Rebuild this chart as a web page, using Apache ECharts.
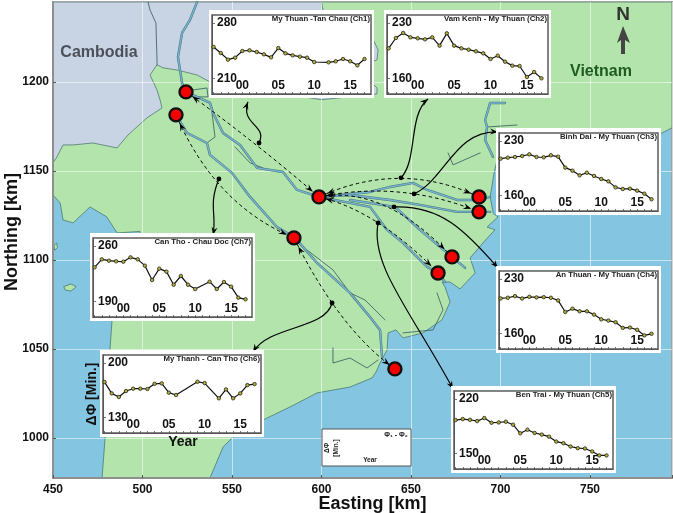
<!DOCTYPE html>
<html><head><meta charset="utf-8"><style>html,body{margin:0;padding:0;background:#fff}#c{width:673px;height:513px}</style>
<script src="https://cdn.jsdelivr.net/npm/echarts@6/dist/echarts.min.js"></script></head><body><div id="c"></div>
<script>
// ---- inset series (travel-time difference, minutes), 1996..2017 ----
const years=[1996,1997,1998,1999,2000,2001,2002,2003,2004,2005,2006,2007,2008,2009,2010,2011,2012,2013,2014,2015,2016,2017];
const ch1=[249.5,241.9,233.5,236,244.4,245.3,243.2,240.2,236.4,248.2,241.5,238.9,237.3,236,230.5,null,230.1,231.4,234.3,231.4,226.3,234.3];
const ch2=[197.8,210.9,217.2,211.7,210.5,209.2,211.7,201.2,216.8,201.2,197.8,196.1,194,191.5,184.3,188.5,180.9,175.9,175.4,161.5,167.8,159.8];
const ch3=[207.1,208.4,209.2,210.5,212.6,209.2,208.8,211.4,209.7,195.6,191.7,185.7,189.1,184.9,181,178,170.3,168.2,168.6,166.1,162.2,155];
const ch4=[204.8,205.7,207.8,204.8,206.9,206.1,206.5,205.7,202.3,187.5,191.7,188.3,188.3,184.1,178.1,176.4,174.3,167.1,167.5,164.6,157.4,159.5];
const ch5=[192.7,194,193.1,191.4,195.3,189.3,189.7,190.6,186.8,175.8,180.4,176.2,174.1,171.5,165.2,163.1,158.8,156.7,156.3,152.5,147.4,147.4];
const ch6=[175.3,160.8,156.2,163.8,166.8,166.8,166.4,173.1,173.6,161.7,158.7,null,null,175.7,174,null,154.5,165.9,154.5,160.8,171.4,172.7];
const ch7=[232.9,243,241.3,240.5,240,245.5,243,235,216.8,231.2,227.4,210.9,221.9,210.9,205.4,null,214.7,205.4,214.3,208.4,194.5,192.4];
const yearTicks=[2000,2005,2010,2015];
const chTitles=['My Thuan -Tan Chau (Ch1)','Vam Kenh - My Thuan (Ch2)','Binh Dai - My Thuan (Ch3)','An Thuan - My Thuan (Ch4)','Ben Trai - My Thuan (Ch5)','My Thanh - Can Tho (Ch6)','Can Tho - Chau Doc (Ch7)'];
const chTicks=[[210,280],[160,230],[160,230],[160,230],[150,220],[130,200],[190,260]];
// ---- map geometry, in km (easting, northing) ----
const eastingTicks=[450,500,550,600,650,700,750];
const northingTicks=[1000,1050,1100,1150,1200];
const land=[[450,1244.9],[795.8,1244.9],[795.8,1174.2],[790.2,1171.3],[755.6,1167],[710.9,1170],[698.1,1156.2],[696.4,1148.9],[694.2,1135.4],[696,1126],[698.6,1124.2],[692.5,1118.5],[696.9,1116.9],[690.2,1109.6],[683,1101.1],[685.8,1092.7],[677.4,1083.7],[671.8,1087.6],[667.3,1087.6],[669,1084.8],[671.8,1076.4],[667.3,1066.3],[656.7,1059],[645.5,1056.2],[641.6,1060.7],[637.2,1059],[636.6,1049.4],[632.7,1042.1],[630.5,1037.1],[628.2,1033.7],[615.9,1028.6],[597.5,1025.3],[582.4,1017.4],[567.3,1010.1],[550,1000],[545,994.9],[537.7,977.5],[477.4,977.5],[479.1,1000],[480.2,1021.3],[481.8,1049.4],[483,1066.3],[498.6,1112],[498.6,1116],[485.8,1115.2],[480,1124.2],[470.7,1129.8],[461.2,1120.8],[455.6,1122.5],[454,1132],[450,1136.5]];
const cambodia=[[450,1244.9],[600,1244.9],[600.8,1240.4],[627.1,1227.5],[631.6,1218],[631,1212.4],[627.1,1210.7],[627.1,1200.5],[631,1196.6],[631,1193.3],[600,1190],[537.7,1200],[530.5,1203.9],[519.3,1206.7],[511.5,1207.9],[508.1,1209.6],[504.2,1203.9],[508.1,1195.5],[509.8,1189.9],[510.9,1185.4],[502.5,1179.8],[491.9,1170.2],[485.8,1162.9],[472.3,1165.7],[461.2,1164.6],[455.6,1164.6],[452.2,1157.9],[450,1154.5]];
const islandA=[[450.5,1108],[452,1109.5],[452.5,1107],[451,1105.5]];
const islandB=[[456,1085],[460,1086.5],[463,1085],[460,1082.5],[457,1083]];
const riverTien=[[530.5,1244.9],[526.5,1234.8],[522.1,1227.5],[519.8,1214],[522.1,1199.4],[524.3,1194.4],[537.7,1188.2],[539.4,1182.6],[545,1171.3],[554.5,1164.6],[564,1151.7],[578.5,1149.4],[586.3,1139.3],[598.6,1135.4]];
const riverHau=[[518.7,1181.5],[524.9,1171.3],[536,1165.7],[537.7,1159],[550,1148.9],[560.1,1135.4],[575.1,1118.5],[585.2,1112.4],[597.5,1098.3],[615.9,1081.5],[627.1,1068],[632.7,1060.7],[633.8,1045.5]];
const riverCuaDai=[[598.6,1135.4],[627.1,1138.2],[638.3,1141],[651.1,1143.3],[659,1139.3],[675.7,1133.7],[688.6,1133.7],[694.2,1135.4]];
const riverHamLuong=[[598.6,1135.4],[615.9,1136.5],[638.3,1133.7],[655,1130.9],[675.7,1127],[694.2,1127]];
const riverAnThuan=[[615.9,1133.7],[641,1129.8],[655,1116.9],[666.2,1107.3],[672.9,1101.7],[680.2,1095.5]];
const riverBenTrai=[[598.6,1135.4],[627.1,1129.8],[636.6,1116.9],[645.5,1109.6],[659,1096.1],[665.1,1092.7],[669,1087.6]];
const riverSoaiRap=[[702.5,1188.2],[694.2,1188.2],[691.4,1178.6],[692.5,1174.7],[691.4,1167.4],[695.8,1157.9]];
const thinRivers=[
 [[503.1,1244.9],[504.2,1240.4],[507.5,1233.1],[508.1,1212.4],[508.1,1209.6]],
 [[528.2,1195.5],[536,1196.6],[536.6,1191.6],[530.5,1191.6]],
 [[536,1165.7],[540.5,1169.1],[538.8,1182.6]],
 [[551.7,1163.5],[560.1,1154.5],[567.3,1151.7]],
 [[692.5,1174.7],[709.2,1175.8]],
 [[670.7,1160.1],[673.5,1153.4],[688.6,1160.1]],
 [[606.4,1050.6],[606.4,1042.1],[615.9,1044.9],[625.4,1039.3],[631.6,1043.8]],
 [[591.9,1105.6],[606.4,1094.4],[615.9,1081.5]],
 [[615.9,1081.5],[624.3,1077.5],[635.5,1066.3]],
 [[645.5,1059],[662.3,1060.7],[667.9,1071.9],[664.5,1081.5]]
];
const stations=[[524.3,1194.4],[518.7,1181.5],[584.6,1112.4],[598.6,1135.4],[688,1135.4],[688,1127],[672.9,1101.7],[665.1,1092.7],[641,1038.8]];
// dashed links: from, control, to, mid dot
const dashedArcs=[
 [[524.3,1194.4],[562.3,1166.9],[598.6,1135.4],[565.1,1165.7]],
 [[598.6,1135.4],[643.9,1156.2],[688,1135.4],[644.4,1146.1]],
 [[598.6,1135.4],[644.4,1144.9],[688,1127],[651.7,1137.1]],
 [[598.6,1135.4],[635.5,1142.1],[672.9,1101.7],[640.5,1129.8]],
 [[598.6,1135.4],[631.6,1127.5],[665.1,1092.7],[631.6,1120.8]],
 [[584.6,1112.4],[610.3,1060.7],[641,1038.8],[605.9,1075.8]],
 [[518.7,1181.5],[540.5,1130.9],[584.6,1112.4],[542.7,1145.5]]
];
// solid callouts: dot, control 1, control 2, inset end
const callouts=[
 [[565.1,1165.7],[570.1,1175.8],[554.5,1175.8],[558.9,1188.8]],
 [[644.4,1146.1],[653.9,1156.2],[648.3,1181.5],[659.5,1190.4]],
 [[651.7,1137.1],[669,1145],[674.6,1173],[698.6,1171.9]],
 [[640.5,1129.8],[666.2,1130.9],[680.2,1116.9],[698.6,1095.5]],
 [[631.6,1120.8],[627.1,1097.2],[649.5,1071.9],[673.5,1027.5]],
 [[605.9,1075.8],[602,1060.7],[571.2,1063.5],[561.7,1048.3]],
 [[542.7,1145.5],[536.6,1130.9],[541.6,1125.3],[539.4,1114]]
];
// ---- layout of inset frames (pixels): plot box and white margin ----
const insetBoxes=[[212,15,159,79],[387,15,161,79],[499,133,159,78],[499,271,159,78],[454,391,159,78],[103,355,158,78],[93,238,159,79]];
const chData=[ch1,ch2,ch3,ch4,ch5,ch6,ch7];
const FONT='"Liberation Sans",Arial,sans-serif';

function poly(color,stroke,pts){return {type:'custom',coordinateSystem:'cartesian2d',xAxisIndex:0,yAxisIndex:0,z:1,silent:true,clip:true,
  data:[pts[0]],renderItem:(p,api)=>({type:'polygon',shape:{points:pts.map(q=>api.coord(q))},style:{fill:color,stroke:stroke,lineWidth:.7}})};}
function river(pts,w,c,z){return {type:'line',xAxisIndex:0,yAxisIndex:0,data:pts,showSymbol:false,symbol:'none',silent:true,z:z,lineStyle:{width:w,color:c,cap:'round',join:'round'}};}
function head(tip,ang){const L=8,W=3;const c=Math.cos(ang),s=Math.sin(ang);
  return {type:'polygon',shape:{points:[tip,[tip[0]-L*c-W*s,tip[1]-L*s+W*c],[tip[0]-L*.65*c,tip[1]-L*.65*s],[tip[0]-L*c+W*s,tip[1]-L*s-W*c]]},style:{fill:'#000'}};}
const grids=[{left:53,top:2,right:1,bottom:35,outerBoundsMode:'none',containLabel:false,show:true,borderColor:'#a3a3a3',borderWidth:2,backgroundColor:'#84c5e2',z:0}];
const xAxes=[{type:'value',gridIndex:0,min:450,max:795.8,interval:50,z:2,
  name:'Easting [km]',nameLocation:'middle',nameMoveOverlap:false,nameGap:17,nameTextStyle:{fontFamily:FONT,fontWeight:'bold',fontSize:18,color:'#111',padding:[0,0,0,20]},
  axisLine:{onZero:false,lineStyle:{color:'#8f8f8f',width:2}},axisTick:{inside:true,length:3,lineStyle:{color:'#555'}},
  axisLabel:{customValues:eastingTicks,hideOverlap:false,fontFamily:FONT,fontWeight:'bold',fontSize:12,color:'#111',margin:6,formatter:v=>String(v)},
  splitLine:{show:true,lineStyle:{color:'rgba(255,255,255,.55)',width:1}}}];
const yAxes=[{type:'value',gridIndex:0,min:977.5,max:1244.9,z:2,
  name:'Northing [km]',nameLocation:'middle',nameMoveOverlap:false,nameGap:32,nameRotate:90,nameTextStyle:{fontFamily:FONT,fontWeight:'bold',fontSize:18,color:'#111',padding:[0,0,0,16]},
  axisLine:{onZero:false,lineStyle:{color:'#8f8f8f',width:2}},axisTick:{inside:true,length:3,customValues:northingTicks,lineStyle:{color:'#555'}},
  axisLabel:{customValues:northingTicks,hideOverlap:false,fontFamily:FONT,fontWeight:'bold',fontSize:12,color:'#111',margin:4,formatter:v=>String(v)},
  splitLine:{show:true,lineStyle:{color:'rgba(255,255,255,.55)',width:1}}}];
const series=[poly('#b2e4ab','#3f6d66',land),poly('#c8d4e3','#3f6d66',cambodia),poly('#b2e4ab','#3f6d66',islandA),poly('#b2e4ab','#3f6d66',islandB)];
thinRivers.forEach(r=>series.push(river(r,.8,'#33595f',3)));
[riverTien,riverHau,riverCuaDai,riverHamLuong,riverAnThuan,riverBenTrai,riverSoaiRap].forEach(r=>{series.push(river(r,2.4,'#46757f',3));series.push(river(r,1.4,'#78b3ce',3));});
series.push({type:'custom',coordinateSystem:'cartesian2d',xAxisIndex:0,yAxisIndex:0,z:4,silent:true,clip:false,data:dashedArcs.map(a=>a[0]),
  renderItem:(p,api)=>{const a=dashedArcs[p.dataIndex],[s,c,e,d]=a.map(q=>api.coord(q));
    const pt=t=>[(1-t)*(1-t)*s[0]+2*t*(1-t)*c[0]+t*t*e[0],(1-t)*(1-t)*s[1]+2*t*(1-t)*c[1]+t*t*e[1]];
    const len=Math.hypot(e[0]-s[0],e[1]-s[1]),t0=8/len,t1=1-t0;
    const p0=pt(t0),p0b=pt(t0+.05),p1=pt(t1),p1b=pt(t1-.05);
    return {type:'group',children:[
      {type:'bezierCurve',shape:{x1:s[0],y1:s[1],x2:e[0],y2:e[1],cpx1:c[0],cpy1:c[1]},style:{fill:null,stroke:'#000',lineWidth:1,lineDash:[3.5,3]}},
      head(p0,Math.atan2(p0[1]-p0b[1],p0[0]-p0b[0])),head(p1,Math.atan2(p1[1]-p1b[1],p1[0]-p1b[0])),
      {type:'circle',shape:{cx:d[0],cy:d[1],r:2.4},style:{fill:'#000'}}]};}});
series.push({type:'custom',coordinateSystem:'cartesian2d',xAxisIndex:0,yAxisIndex:0,z:4,silent:true,clip:false,data:callouts.map(a=>a[0]),
  renderItem:(p,api)=>{const [s,c1,c2,e]=callouts[p.dataIndex].map(q=>api.coord(q));
    return {type:'group',children:[
      {type:'bezierCurve',shape:{x1:s[0],y1:s[1],x2:e[0],y2:e[1],cpx1:c1[0],cpy1:c1[1],cpx2:c2[0],cpy2:c2[1]},style:{fill:null,stroke:'#000',lineWidth:1.2}},
      head(e,Math.atan2(e[1]-c2[1],e[0]-c2[0]))]};}});
series.push({type:'scatter',xAxisIndex:0,yAxisIndex:0,z:5,silent:true,data:stations,symbol:'circle',symbolSize:13,itemStyle:{color:'#f40000',borderColor:'#111',borderWidth:2.4,opacity:1}});

const titles=[];const graphics=[];
insetBoxes.forEach((b,i)=>{
  const g=i+1,lo=chTicks[i][0],hi=chTicks[i][1];
  grids.push({left:b[0],top:b[1],width:b[2],height:b[3],outerBoundsMode:'none',containLabel:false,show:true,backgroundColor:'#fff',borderColor:'#5c5c5c',borderWidth:1.5,z:7});
  graphics.push({type:'rect',shape:{x:b[0]-3,y:b[1]-5,width:b[2]+6,height:b[3]+9},style:{fill:'#fff'},z:6,silent:true});
  xAxes.push({type:'value',gridIndex:g,min:1995.78,max:2017.9,z:8,axisLine:{onZero:false,lineStyle:{color:'#555',width:1}},
    axisTick:{inside:true,length:2,customValues:years,lineStyle:{color:'#555',width:.8}},
    axisLabel:{inside:true,customValues:yearTicks,hideOverlap:false,margin:2,fontFamily:FONT,fontWeight:'bold',fontSize:12,color:'#111',
      formatter:v=>String(v%100).padStart(2,'0')},splitLine:{show:false}});
  yAxes.push({type:'value',gridIndex:g,min:lo-20,max:lo+80,z:8,axisLine:{onZero:false,lineStyle:{color:'#555',width:1}},
    axisTick:{inside:true,length:3,customValues:[lo,hi],lineStyle:{color:'#555',width:.8}},
    axisLabel:{inside:true,customValues:[lo,hi],margin:5,fontFamily:FONT,fontWeight:'bold',fontSize:12,color:'#111'},splitLine:{show:false}});
  series.push({type:'line',xAxisIndex:g,yAxisIndex:g,z:9,silent:true,data:years.map((y,k)=>[y,chData[i][k]]).filter(d=>d[1]!==null),
    symbol:'circle',symbolSize:3.5,showSymbol:true,lineStyle:{color:'#111',width:1.2},itemStyle:{color:'#b3ad3c',borderColor:'#111',borderWidth:.7}});
  titles.push({text:chTitles[i],right:673-(b[0]+b[2]-1),top:b[1],z:12,padding:0,textStyle:{fontFamily:FONT,fontWeight:'bold',fontSize:7.8,color:'#222'}});
});
const T=(text,x,y,size,color,rot,extra)=>Object.assign({type:'text',x,y,rotation:rot?Math.PI/2:0,z:13,silent:true,style:{text,fontFamily:FONT,fontWeight:'bold',fontSize:size,fill:color,textAlign:'center',textVerticalAlign:'middle'}},extra||{});
graphics.push(
  T('Cambodia',99,53,16,'#4c5059'),T('Vietnam',601,72,16,'#1e5c21'),T('N',623,15,19,'#333'),
  {type:'polygon',z:13,silent:true,shape:{points:[[623,26],[630,43],[625,40],[625,54],[621,54],[621,40],[617,43]]},style:{fill:'#444'}},
  T('Year',183,442,14,'#111'),T('\u0394\u03a6 [Min.]',92,394,14,'#111',true),
  {type:'rect',z:12,silent:true,shape:{x:322,y:429,width:89,height:37},style:{fill:'#fff',stroke:'#555',lineWidth:1}},
  T('\u0394\u03a6',327,448,6.5,'#222',true),T('[Min.]',336,448,6.5,'#222',true),T('Year',370,460,6.5,'#222'),
  T('\u03a6\u2081 - \u03a6\u2082',396,435,7,'#222')
);
const chart=echarts.init(document.getElementById('c'),null,{renderer:'canvas'});
chart.setOption({animation:false,backgroundColor:'#fff',title:titles,grid:grids,xAxis:xAxes,yAxis:yAxes,series,graphic:{elements:graphics}});
</script></body></html>
